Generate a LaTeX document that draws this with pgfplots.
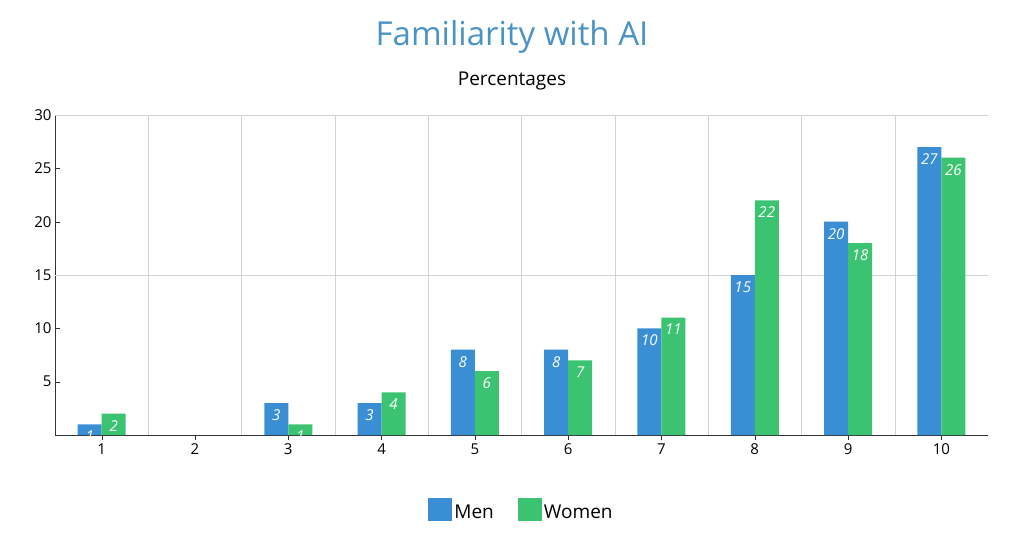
\documentclass[border=0pt]{standalone}
\usepackage{pgfplots}
\pgfplotsset{compat=1.18}
\usepackage{fontspec}
\setmainfont{Open Sans}
\definecolor{menc}{HTML}{3A8FD4}
\definecolor{womc}{HTML}{3CC372}
\definecolor{titc}{HTML}{4A93C4}
\begin{document}
\begin{tikzpicture}[x=1pt,y=1pt]
\path[use as bounding box] (-55,-104) rectangle (969,435);
\begin{axis}[at={(0,0)},anchor=south west,scale only axis,width=933pt,height=320pt,
 xmin=0.5,xmax=10.5,ymin=0,ymax=30,
 xtick={1,...,10}, minor xtick={1.5,2.5,...,9.5}, xminorgrids, minor grid style={gray!35}, minor tick length=0pt,
 ytick={5,10,...,30}, extra y ticks={15,30}, extra y tick labels={}, extra y tick style={grid=major, major grid style={gray!35}, tick style={draw=none}},
 axis x line*=bottom, axis y line*=left, axis line style={black!80},
 major tick length=5pt, xtick style={black!80}, ytick style={black!80},
 tick label style={font=\fontsize{15}{17}\selectfont}, /pgf/number format/assume math mode=true,
 ybar=0pt, bar width=24pt,
 nodes near coords, every node near coord/.append style={anchor=north,yshift=-3pt,white,font=\itshape\fontsize{15}{17}\selectfont},
 legend style={at={(0.5,-0.19)},anchor=north,draw=none,legend columns=2,font=\fontsize{19}{21}\selectfont,/tikz/every even column/.append style={column sep=22pt}},
 legend image code/.code={\fill[#1] (0,-9pt) rectangle (24pt,14pt);},
 ]
\addplot[fill=menc,draw=none] coordinates {(1,1)(3,3)(4,3)(5,8)(6,8)(7,10)(8,15)(9,20)(10,27)};
\addplot[fill=womc,draw=none] coordinates {(1,2)(3,1)(4,4)(5,6)(6,7)(7,11)(8,22)(9,18)(10,26)};
\legend{Men,Women}
\end{axis}
\node[titc,font=\fontsize{33}{36}\selectfont] at (457,398) {Familiarity with AI};
\node[font=\fontsize{19}{21}\selectfont] at (457,354) {Percentages};
\end{tikzpicture}
\end{document}
